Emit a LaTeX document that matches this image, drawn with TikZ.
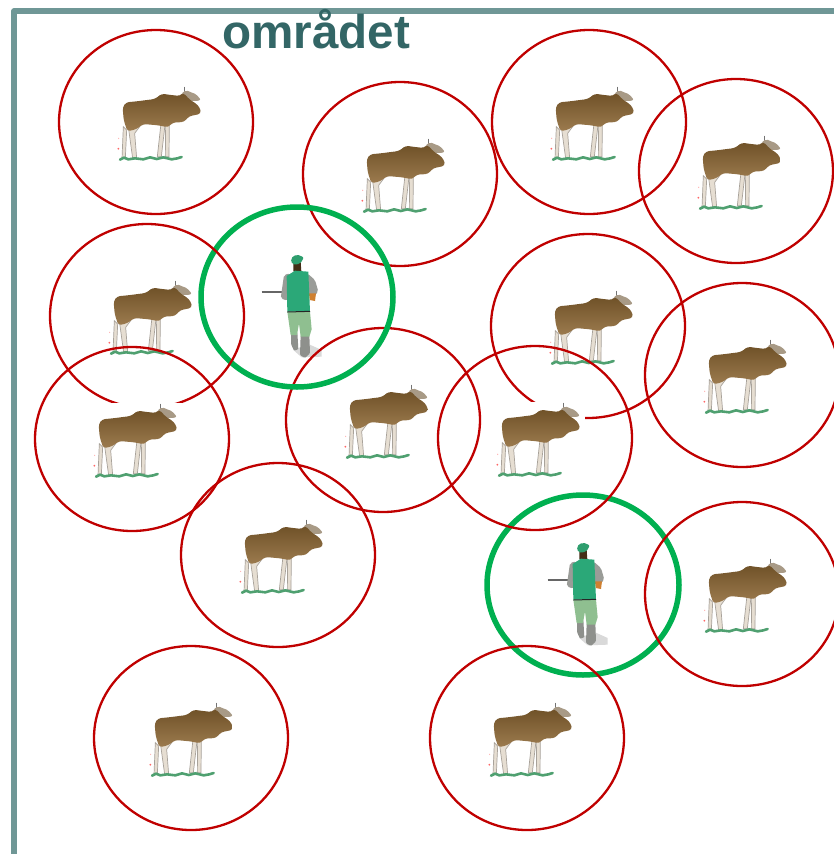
\documentclass[tikz,border=0pt]{standalone}
\usepackage{fontspec}
\setmainfont{Liberation Sans}
\definecolor{framec}{HTML}{6F9796}
\definecolor{titlec}{HTML}{336666}
\definecolor{ringred}{HTML}{C00000}
\definecolor{ringgreen}{HTML}{00B050}
\definecolor{vest}{HTML}{2BA878}
\definecolor{trouser}{HTML}{8FBF90}
\definecolor{sleeve}{HTML}{9A9C98}
\definecolor{boot}{HTML}{8E908C}
\definecolor{mooseleg}{HTML}{E6DED2}
\definecolor{mooseedge}{HTML}{A8A29A}
\definecolor{mooseup}{HTML}{6F5128}
\definecolor{moosedown}{HTML}{9C7B4E}
\definecolor{antler}{HTML}{A89A86}
\definecolor{grass}{HTML}{4FA070}
\definecolor{capc}{HTML}{2E9E6E}
\tikzset{
  redring/.style={draw=ringred,line width=2.3pt},
  greenring/.style={draw=ringgreen,line width=5.5pt},
  framerule/.style={draw=framec,line width=5.5pt,line cap=round,line join=round},
  mooselegs/.style={fill=mooseleg,draw=mooseedge,line width=.7pt},
  moose/.pic={
    \begin{scope}[x=.33333pt,y=-.33333pt,shift={(-168,-156)}]
      \fill[white] (54,48) rectangle (318,282);
      % legs
      \filldraw[mooselegs] (70,170) -- (66,265) -- (76,265) -- (80,180) -- cycle;
      \filldraw[mooselegs] (86,178) -- (98,265) -- (110,265) -- (104,190) -- (125,162) -- (95,165) -- cycle;
      \filldraw[mooselegs] (183,160) -- (172,260) -- (184,260) -- (195,165) -- cycle;
      \filldraw[mooselegs] (197,160) -- (196,260) -- (207,260) -- (208,165) -- cycle;
      % antlers
      \draw[black!55,line width=1.2pt] (254,50) -- (254,75);
      \fill[antler,rounded corners=2pt] (243,72) -- (258,60) -- (270,66) -- (288,72) -- (303,90) -- (285,94) -- (262,90) -- cycle;
      % body
      \shade[top color=mooseup,bottom color=moosedown,rounded corners=3pt]
        (68,112) -- (78,97) -- (110,94)
        -- (165,87) -- (185,71) -- (205,74)
        -- (240,78) -- (250,68) -- (270,90) -- (285,98) -- (300,113) -- (303,131) -- (282,136)
        -- (268,138) -- (252,156) -- (217,158) -- (205,172) -- (175,166)
        -- (130,162) -- (108,178) -- (82,184) -- (71,150) -- cycle;
      % grass
      \draw[grass,line width=2.6pt,line cap=round,line join=round] (60,269) -- (72,263) -- (85,268) -- (105,265) -- (130,268) -- (150,262) -- (170,267) -- (190,262) -- (215,268) -- (232,265) -- (245,261);
      \fill[red!60!white] (55,236) circle[radius=3];
      \fill[red!30!white] (56,205) circle[radius=2];
    \end{scope}
  },
  hunter/.pic={
    \begin{scope}[x=.33333pt,y=-.33333pt,shift={(-351,-171)}]
      \fill[gray!30] (385,312) -- (425,330) -- (425,350) -- (365,352) -- (340,330) -- cycle;
      \draw[black!60,line width=1.7pt] (245,157) -- (306,157);
      \fill[sleeve,rounded corners=2pt] (312,105) -- (302,175) -- (322,182) -- (330,100) -- cycle;
      \fill[sleeve,rounded corners=2pt] (382,100) -- (405,120) -- (415,155) -- (406,165) -- (386,165) -- cycle;
      \fill[brown!75!orange] (387,160) -- (408,160) -- (405,183) -- (389,180) -- cycle;
      \fill[boot,rounded corners=1pt] (333,275) -- (352,275) -- (355,328) -- (342,332) -- (333,312) -- cycle;
      \fill[boot,rounded corners=1pt] (362,285) -- (388,285) -- (390,340) -- (375,354) -- (360,345) -- cycle;
      \fill[trouser] (322,215) -- (390,215) -- (395,268) -- (388,290) -- (362,290) -- (357,250) -- (351,285) -- (332,285) -- cycle;
      \fill[black!65!brown] (340,66) -- (362,66) -- (364,94) -- (340,94) -- cycle;
      \fill[vest] (320,108) -- (345,92) -- (385,95) -- (390,215) -- (322,215) -- cycle;
      \draw[black!85,line width=1pt] (322,216) -- (390,214);
      \fill[capc,rounded corners=2pt] (332,55) -- (350,43) -- (372,52) -- (360,72) -- (337,74) -- cycle;
    \end{scope}
  }
}
\begin{document}
\begin{tikzpicture}[x=1pt,y=-1pt]
  \useasboundingbox (0,0) rectangle (834,854);
  \clip (0,0) rectangle (834,854);
  \fill[white] (0,0) rectangle (834,854);
  \draw[framerule] (14,860) -- (14,11) -- (840,11);
  \node[anchor=base west,inner sep=0pt,text=titlec,font=\bfseries\fontsize{47.6}{50}\selectfont] (title) at (222,48) {området};
  % red rings and moose, in stacking order
  \draw[redring] (156,122) ellipse[x radius=97,y radius=92];
  \pic (m1) at (156,122) {moose};
  \draw[redring] (400,174) ellipse[x radius=97,y radius=92];
  \pic (m2) at (400,174) {moose};
  \draw[redring] (589,122) ellipse[x radius=97,y radius=92];
  \pic (m3) at (589,122) {moose};
  \draw[redring] (736,171) ellipse[x radius=97,y radius=92];
  \pic (m4) at (736,171) {moose};
  \pic (h1) at (297,297) {hunter};
  \draw[redring] (383,420) ellipse[x radius=97,y radius=92];
  \pic (m9) at (383,420) {moose};
  \draw[greenring] (297,297) ellipse[x radius=96,y radius=90];
  \draw[redring] (147,316) ellipse[x radius=97,y radius=92];
  \pic (m5) at (147,316) {moose};
  \draw[redring] (588,326) ellipse[x radius=97,y radius=92];
  \pic (m6) at (588,326) {moose};
  \draw[redring] (742,375) ellipse[x radius=97,y radius=92];
  \pic (m7) at (742,375) {moose};
  \draw[redring] (132,439) ellipse[x radius=97,y radius=92];
  \pic (m8) at (132,439) {moose};
  \pic (h2) at (583,585) {hunter};
  \draw[greenring] (583,585) ellipse[x radius=96,y radius=90];
  \draw[redring] (535,438) ellipse[x radius=97,y radius=92];
  \pic (m10) at (535,438) {moose};
  \draw[redring] (278,555) ellipse[x radius=97,y radius=92];
  \pic (m11) at (278,555) {moose};
  \draw[redring] (742,594) ellipse[x radius=97,y radius=92];
  \pic (m12) at (742,594) {moose};
  \draw[redring] (191,738) ellipse[x radius=97,y radius=92];
  \pic (m13) at (188,738) {moose};
  \draw[redring] (527,738) ellipse[x radius=97,y radius=92];
  \pic (m14) at (527,738) {moose};
\end{tikzpicture}
\end{document}
